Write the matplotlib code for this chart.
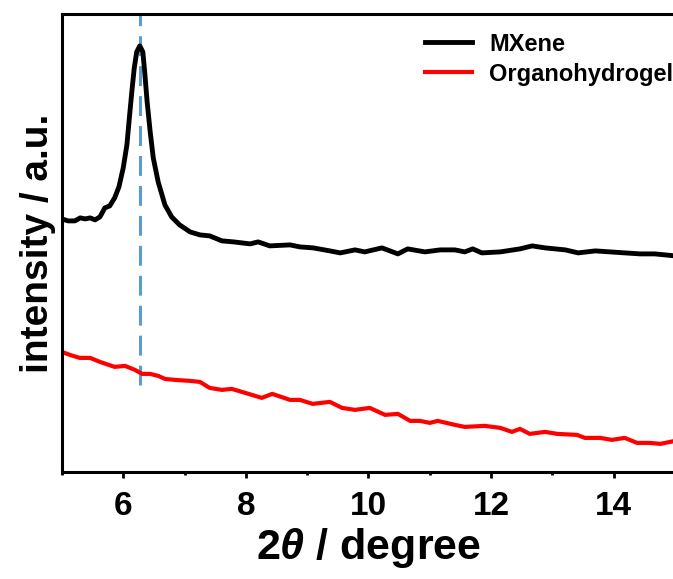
import matplotlib
matplotlib.use('Agg')
import matplotlib.pyplot as plt
from matplotlib.ticker import MultipleLocator

plt.rcParams['font.family'] = ['Liberation Sans', 'DejaVu Sans']
plt.rcParams['font.weight'] = 'bold'
plt.rcParams['mathtext.fontset'] = 'custom'
plt.rcParams['mathtext.it'] = 'Liberation Sans:italic:bold'
plt.rcParams['mathtext.rm'] = 'Liberation Sans:bold'

# Datos (2theta en grados, intensidad en unidades arbitrarias)
mxene_2theta = [5.00, 5.10, 5.21, 5.30, 5.38, 5.46, 5.54, 5.62, 5.70, 5.78, 5.86,
                5.93, 6.00, 6.06, 6.10, 6.14, 6.18, 6.22, 6.27, 6.32, 6.35, 6.39,
                6.44, 6.49, 6.57, 6.68, 6.79, 6.92, 7.09, 7.25, 7.41, 7.61, 7.80,
                8.07, 8.20, 8.39, 8.72, 8.88, 9.10, 9.37, 9.54, 9.78, 9.94, 10.22,
                10.48, 10.64, 10.92, 11.17, 11.41, 11.57, 11.70, 11.85, 12.15, 12.47,
                12.67, 12.88, 13.21, 13.42, 13.70, 13.94, 14.18, 14.43, 14.67, 15.00]
mxene_int = [253, 251, 251, 254, 253, 254, 252, 255, 264, 266, 274,
             285, 304, 327, 354, 380, 404, 420, 426, 420, 400, 370,
             340, 314, 290, 267, 255, 247, 240, 237, 236, 231, 230,
             228, 230, 226, 227, 225, 224, 221, 219, 222, 220, 224,
             218, 223, 220, 222, 222, 220, 223, 219, 220, 223,
             226, 224, 222, 219, 221, 220, 219, 218, 218, 216]

gel_2theta = [5.00, 5.13, 5.29, 5.46, 5.62, 5.86, 6.03, 6.19, 6.31, 6.44, 6.57,
              6.68, 6.84, 7.09, 7.25, 7.41, 7.61, 7.77, 7.99, 8.26, 8.43, 8.72,
              8.88, 9.09, 9.37, 9.57, 9.78, 10.02, 10.27, 10.48, 10.68, 10.84,
              11.00, 11.13, 11.41, 11.57, 11.90, 12.15, 12.34, 12.47, 12.63,
              12.88, 13.08, 13.40, 13.53, 13.78, 13.97, 14.18, 14.38, 14.59,
              14.76, 15.00]
gel_int = [120, 117, 114, 114, 110, 105, 106, 102, 98, 98, 96,
           93, 92, 91, 90, 84, 82, 83, 79, 74, 78, 72,
           72, 68, 70, 64, 62, 64, 57, 58, 51, 51,
           49, 51, 47, 45, 46, 44, 40, 43, 38,
           40, 38, 37, 34, 34, 32, 34, 29, 29,
           28, 31]

peak_pos = 6.27
dash_bottom = 87

fig = plt.figure(figsize=(6.73, 5.79), dpi=100)
ax = fig.add_axes([0.092, 0.185, 0.911, 0.791])

ax.vlines(peak_pos, dash_bottom, 460, colors='#5b9bd5', linestyles=(0, (6.5, 3.3)),
          linewidth=2.2, zorder=1)
ax.plot(mxene_2theta, mxene_int, color='black', linewidth=3.5, label='MXene',
        solid_joinstyle='round', zorder=3)
ax.plot(gel_2theta, gel_int, color='#ff0000', linewidth=3.0, label='Organohydrogel',
        solid_joinstyle='round', zorder=2)

ax.set_xlim(5, 15)
ax.set_ylim(0, 458)
ax.xaxis.set_major_locator(MultipleLocator(2))
ax.xaxis.set_minor_locator(MultipleLocator(1))
ax.set_yticks([])
ax.tick_params(axis='x', which='major', direction='out', length=4.5, width=2,
               labelsize=24, pad=9)
ax.tick_params(axis='x', which='minor', direction='out', length=2.5, width=2)
for lab in ax.get_xticklabels():
    lab.set_fontweight('bold')
for s in ['left', 'bottom', 'top']:
    ax.spines[s].set_linewidth(2.2)
ax.spines['right'].set_visible(False)

ax.set_xlabel(r'2$\theta$ / degree', fontsize=31, fontweight='bold', labelpad=3)
ax.set_ylabel('intensity / a.u.', fontsize=28, fontweight='bold', labelpad=4)

ax.legend(loc='upper right', bbox_to_anchor=(1.012, 0.98), frameon=False,
          handlelength=2.0, handletextpad=0.7, labelspacing=0.3, borderaxespad=0,
          prop={'weight': 'bold', 'size': 17})

fig.savefig('out.png', dpi=100)
